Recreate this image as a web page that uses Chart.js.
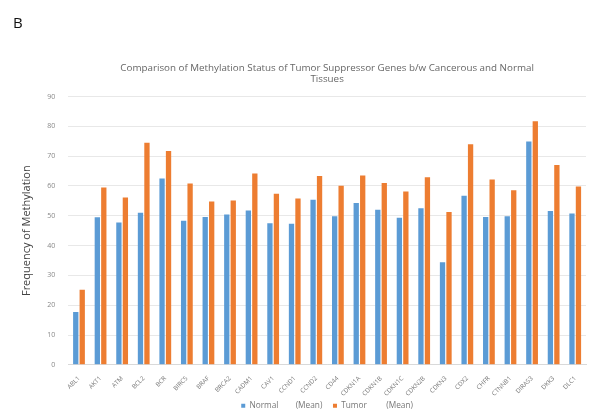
<!DOCTYPE html>
<html>
<head>
<meta charset="utf-8">
<script src="https://cdn.jsdelivr.net/npm/chart.js@4.4.1/dist/chart.umd.min.js"></script>
<style>
  html, body { margin: 0; padding: 0; background: #fff; }
  #wrap { position: relative; width: 589px; height: 417px; }
  #panel { position: absolute; left: 13px; top: 12px; font: 15px "Open Sans", sans-serif; color: #111; }
</style>
</head>
<body>
<div id="wrap">
  <div id="panel">B</div>
  <canvas id="methChart" width="589" height="417"></canvas>
</div>
<script>
// Genes on the x axis
const genes = ['ABL1', 'AKT1', 'ATM', 'BCL2', 'BCR', 'BIRC5', 'BRAF', 'BRCA2', 'CADM1', 'CAV1',
  'CCND1', 'CCND2', 'CD44', 'CDKN1A', 'CDKN1B', 'CDKN1C', 'CDKN2B', 'CDKN3', 'CDX2', 'CHFR',
  'CTNNB1', 'DIRAS3', 'DKK3', 'DLC1'];

// Mean methylation frequency
const normalMean = [17.7, 49.5, 47.7, 51, 62.5, 48.3, 49.6, 50.4, 51.8, 47.5,
  47.3, 55.4, 49.8, 54.3, 52, 49.3, 52.5, 34.4, 56.7, 49.6,
  49.8, 74.9, 51.6, 50.8];
const tumorMean = [25.2, 59.5, 56.1, 74.5, 71.7, 60.8, 54.8, 55.1, 64.2, 57.4,
  55.8, 63.3, 60.1, 63.5, 61, 58.1, 62.9, 51.3, 74, 62.2,
  58.6, 81.7, 67, 59.8];

const yTicks = [0, 10, 20, 30, 40, 50, 60, 70, 80, 90];

const fontFamily = '"Open Sans", sans-serif';

const ctx = document.getElementById('methChart').getContext('2d');
new Chart(ctx, {
  type: 'bar',
  data: {
    labels: genes,
    datasets: [
      {
        label: 'Normal        (Mean)    ',
        data: normalMean,
        backgroundColor: '#5b9bd5',
        barPercentage: 0.82,
        categoryPercentage: 0.6
      },
      {
        label: 'Tumor         (Mean)',
        data: tumorMean,
        backgroundColor: '#ed7d31',
        barPercentage: 0.82,
        categoryPercentage: 0.6
      }
    ]
  },
  options: {
    responsive: false,
    animation: false,
    layout: { padding: { left: 10, right: 3, top: 62, bottom: -3 } },
    plugins: {
      title: {
        display: true,
        fullSize: false,
        text: ['Comparison of Methylation Status of Tumor Suppressor Genes b/w Cancerous and Normal', 'Tissues'],
        color: '#666',
        font: { family: fontFamily, size: 9.8, weight: 'normal', lineHeight: 1.2 },
        padding: { top: 0, bottom: 11 }
      },
      legend: {
        position: 'bottom',
        fullSize: false,
        labels: {
          boxWidth: 4,
          boxHeight: 4,
          color: '#777',
          font: { family: fontFamily, size: 8.3 },
          padding: 2
        }
      },
      tooltip: { enabled: false }
    },
    scales: {
      x: {
        grid: { display: false },
        border: { color: '#d9d9d9' },
        ticks: {
          color: '#777',
          font: { family: fontFamily, size: 6.3 },
          padding: 2,
          maxRotation: 45,
          minRotation: 45,
          autoSkip: false
        }
      },
      y: {
        min: 0,
        max: 90,
        afterBuildTicks: axis => { axis.ticks = yTicks.map(v => ({ value: v })); },
        grid: { color: '#e8e8e8', drawTicks: false },
        border: { display: false },
        ticks: {
          color: '#888',
          font: { family: fontFamily, size: 7 },
          padding: 13
        },
        title: {
          display: true,
          text: 'Frequency of Methylation',
          color: '#444',
          font: { family: fontFamily, size: 11 },
          padding: { top: 10, bottom: 1 }
        }
      }
    }
  }
});
</script>
</body>
</html>
